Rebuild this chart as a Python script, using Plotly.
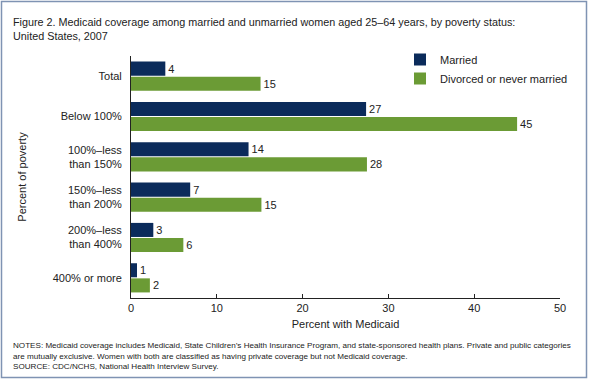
import plotly.graph_objects as go

categories = ["Total", "Below 100%", "100%–less<br>than 150%", "150%–less<br>than 200%",
              "200%–less<br>than 400%", "400% or more"]
married = [4.0, 27.4, 13.7, 6.9, 2.6, 0.7]
divorced = [15.1, 45.0, 27.5, 15.2, 6.1, 2.2]
married_labels = ["4", "27", "14", "7", "3", "1"]
divorced_labels = ["15", "45", "28", "15", "6", "2"]
x_ticks = [0, 10, 20, 30, 40, 50]

FONT = "Liberation Sans, Arial, sans-serif"
NAVY = "#0b2b5b"
GREEN = "#6b9b35"

fig = go.Figure()
fig.add_trace(go.Bar(y=categories, x=married, orientation="h", name="Married",
                     marker=dict(color=NAVY, line=dict(width=0)),
                     text=married_labels, textposition="outside",
                     textfont=dict(size=11, color="#222"), cliponaxis=False))
fig.add_trace(go.Bar(y=categories, x=divorced, orientation="h", name="Divorced or never married",
                     marker=dict(color=GREEN, line=dict(width=0)),
                     text=divorced_labels, textposition="outside",
                     textfont=dict(size=11, color="#222"), cliponaxis=False))

W, H = 589, 380
L, R, T, B = 131, 29, 56, 82
pw, ph = W - L - R, H - T - B

def px_x(p):
    return (p - L) / pw

def px_y(p):
    return (H - B - p) / ph

fig.update_layout(
    width=W, height=H,
    margin=dict(l=L, r=R, t=T, b=B, autoexpand=False),
    paper_bgcolor="white", plot_bgcolor="white",
    font=dict(family=FONT, size=11, color="#222"),
    barmode="group", bargap=0.25, bargroupgap=0.07,
    showlegend=True,
    legend=dict(x=px_x(400), y=px_y(45), xanchor="left", yanchor="top",
                font=dict(size=11), bgcolor="rgba(0,0,0,0)", tracegroupgap=0,
                itemwidth=30),
    xaxis=dict(range=[0, 50], tickvals=x_ticks, showgrid=False, zeroline=False,
               automargin=False,
               showline=True, linecolor="#222", linewidth=1,
               ticks="inside", ticklen=4, tickcolor="#222",
               tickfont=dict(size=11),
               title=dict(text="Percent with Medicaid", font=dict(size=11), standoff=7)),
    yaxis=dict(autorange="reversed", showgrid=False, zeroline=False,
               automargin=False,
               showline=True, linecolor="#222", linewidth=1, ticks="",
               ticklabelstandoff=6, tickfont=dict(size=11),
               title=dict(text="Percent of poverty", font=dict(size=11), standoff=23)),
    shapes=[dict(type="rect", xref="paper", yref="paper",
                 x0=px_x(1.5), x1=px_x(586.5), y0=px_y(377.5), y1=px_y(1.5),
                 line=dict(color="#7f93b3", width=1.5), fillcolor="rgba(0,0,0,0)")],
    annotations=[
        dict(xref="paper", yref="paper", x=px_x(11), y=px_y(14), xanchor="left", yanchor="top",
             align="left", showarrow=False, font=dict(size=10.8, color="#222"),
             text="Figure 2. Medicaid coverage among married and unmarried women aged 25–64 years, by poverty status:<br>United States, 2007"),
        dict(xref="paper", yref="paper", x=px_x(11), y=px_y(339), xanchor="left", yanchor="top",
             align="left", showarrow=False, font=dict(size=8.1, color="#222"),
             text="NOTES: Medicaid coverage includes Medicaid, State Children’s Health Insurance Program, and state-sponsored health plans. Private and public categories<br>are mutually exclusive. Women with both are classified as having private coverage but not Medicaid coverage.<br>SOURCE: CDC/NCHS, National Health Interview Survey."),
    ],
)

fig.write_html("out.html", config={"displayModeBar": False},
               post_script="document.body.style.margin='0';document.body.style.padding='0';")
